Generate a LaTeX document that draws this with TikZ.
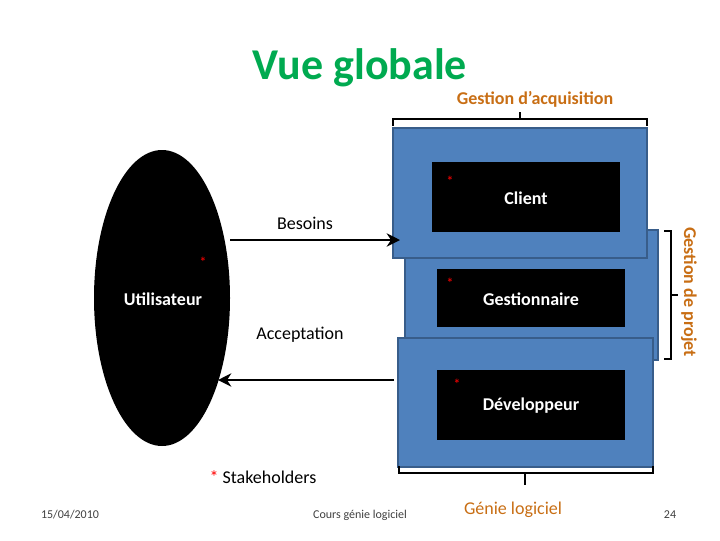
\documentclass[tikz,border=0pt]{standalone}
\usepackage{fontspec}
\setmainfont{Carlito}
\usetikzlibrary{arrows.meta}
\definecolor{bluebox}{RGB}{79,129,189}
\definecolor{blueedge}{RGB}{56,93,138}
\definecolor{orng}{RGB}{200,110,20}
\definecolor{grn}{RGB}{0,170,80}
\tikzset{
 outer/.style={fill=bluebox,draw=blueedge,line width=2pt},
 inner/.style={fill=black},
 txt/.style={font=\fontsize{13.5}{16}\selectfont},
 lbl/.style={text=white,font=\fontsize{13.5}{16}\selectfont\bfseries},
 star/.style={text=red,font=\fontsize{11}{11}\selectfont},
 brk/.style={draw=black,line width=1.5pt},
 conn/.style={draw=black,line width=1.5pt,-{Stealth[length=10pt,width=10pt]}}
}
\begin{document}
\begin{tikzpicture}[x=0.75pt,y=-0.75pt]
\useasboundingbox (0,0) rectangle (720,540);
\node[font=\fontsize{33}{36}\selectfont\bfseries,text=grn] (title) at (360,68) {Vue globale};
\node[font=\fontsize{13.5}{16}\selectfont\bfseries,text=orng] (acq) at (535,99) {Gestion d’acquisition};
\draw[brk] (393,126) -- (393,119) -- (647,119) -- (647,126);
\draw[brk] (520,119) -- (520,112);
% boxes
\path[outer] (405,230) rectangle (658,360);
\path[outer] (393,128) rectangle (647,258);
\path[outer] (398,338) rectangle (653,467);
\node[inner,minimum width=141pt,minimum height=52pt] (cl) at (526,197) {};
\node[inner,minimum width=141pt,minimum height=44pt] (ge) at (531,298) {};
\node[inner,minimum width=141pt,minimum height=52pt] (de) at (531,405) {};
\node[lbl] at (526,198) {Client};
\node[lbl] at (531,299) {Gestionnaire};
\node[lbl] at (531,406) {Développeur};
\node[star] at (450,181) {*};
\node[star] at (450,283) {*};
\node[star] at (457,384) {*};
% right bracket
\draw[brk] (664,231) -- (671,231) -- (671,359) -- (664,359);
\draw[brk] (671,295) -- (678,295);
\node[rotate=-90,font=\fontsize{13.5}{16}\selectfont\bfseries,text=orng] (gp) at (689,292) {Gestion de projet};
% bottom bracket
\draw[brk] (399,466) -- (399,473) -- (653,473) -- (653,466);
\draw[brk] (525,473) -- (525,485);
\node[font=\fontsize{13.5}{16}\selectfont,text=orng] (gl) at (513,510) {Génie logiciel};
% ellipse
\fill[black] (162,298) ellipse [x radius=68, y radius=148];
\node[lbl] (ut) at (163,299) {Utilisateur};
\node[star] at (203,262) {*};
\coordinate (bs) at (230,240);
\coordinate (be) at (400,240);
\draw[conn] (bs) -- (be);
\node[txt] (bes) at (305,223) {Besoins};
\coordinate (as) at (394,380);
\coordinate (ae) at (218,380);
\draw[conn] (as) -- (ae);
\node[txt] (acc) at (300,335) {Acceptation};
\node[txt] (sh) at (263,477) {\textcolor{red}{*} Stakeholders};
\node[font=\fontsize{9}{11}\selectfont,text=black!75] (d) at (70,515) {15/04/2010};
\node[font=\fontsize{9}{11}\selectfont,text=black!75] (c) at (360,515) {Cours génie logiciel};
\node[font=\fontsize{9}{11}\selectfont,text=black!75] (n) at (670,515) {24};
\end{tikzpicture}
\end{document}
